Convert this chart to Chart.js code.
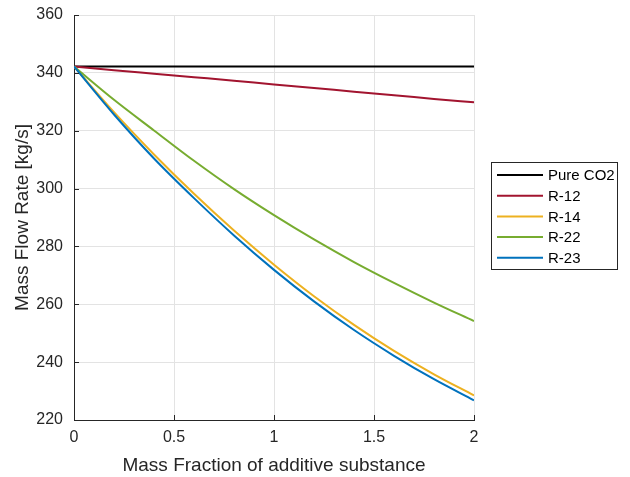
<!DOCTYPE html>
<html><head><meta charset="utf-8">
<script src="https://cdn.jsdelivr.net/npm/chart.js@4.4.0/dist/chart.umd.min.js"></script>
<style>html,body{margin:0;padding:0;background:#fff}#wrap{width:630px;height:477px}</style>
</head><body><div id="wrap"><canvas id="c" width="630" height="477"></canvas></div>
<script>
const massFraction = [0, 0.2, 0.4, 0.6, 0.8, 1.0, 1.2, 1.4, 1.6, 1.8, 2.0];
const pureCO2 = [342.2, 342.2, 342.2, 342.2, 342.2, 342.2, 342.2, 342.2, 342.2, 342.2, 342.2];
const r12 = [342.2, 340.9, 339.7, 338.5, 337.3, 336.0, 334.8, 333.5, 332.3, 331.0, 329.8];
const r14 = [342.2, 326.4, 311.8, 298.2, 285.5, 273.7, 262.8, 252.9, 243.9, 235.8, 228.5];
const r22 = [342.2, 330.7, 320.1, 309.6, 299.8, 290.8, 282.4, 274.6, 267.4, 260.6, 254.2];
const r23 = [342.2, 325.6, 310.4, 296.7, 283.8, 271.9, 261.0, 251.1, 242.2, 234.1, 226.8];
const seriesNames = ['Pure CO2', 'R-12', 'R-14', 'R-22', 'R-23'];
const seriesColors = ['#000000', '#A2142F', '#EDB120', '#77AC30', '#0072BD'];
const xTicks = [0, 0.5, 1, 1.5, 2];
const yTicks = [220, 240, 260, 280, 300, 320, 340, 360];
const axisColor = '#262626';
const FONT = "'Liberation Sans', Arial, Helvetica, sans-serif";

const allSeries = [pureCO2, r12, r14, r22, r23];
const datasets = allSeries.map((vals, i) => ({
  label: seriesNames[i],
  data: vals.map((v, j) => ({x: massFraction[j], y: v})),
  borderColor: seriesColors[i],
  backgroundColor: seriesColors[i],
  borderWidth: 2,
  pointRadius: 0,
  fill: false,
  cubicInterpolationMode: 'monotone',
  order: allSeries.length - i
}));

const innerTicks = {
  id: 'innerTicks',
  afterDatasetsDraw(chart) {
    const ctx = chart.ctx, a = chart.chartArea;
    const xs = chart.scales.x, ys = chart.scales.y;
    ctx.save();
    ctx.strokeStyle = axisColor; ctx.lineWidth = 1;
    ctx.beginPath();
    xTicks.forEach(t => { const p = Math.round(xs.getPixelForValue(t)) + 0.5; ctx.moveTo(p, a.bottom); ctx.lineTo(p, a.bottom - 5); });
    yTicks.forEach(t => { const p = Math.round(ys.getPixelForValue(t)) + 0.5; ctx.moveTo(a.left, p); ctx.lineTo(a.left + 5, p); });
    ctx.stroke();
    ctx.restore();
  }
};

const boxLegend = {
  id: 'boxLegend',
  afterDraw(chart) {
    const ctx = chart.ctx;
    const x0 = 491.5, y0 = 162.5, w = 126, h = 107;
    ctx.save();
    ctx.fillStyle = '#fff';
    ctx.fillRect(x0, y0, w, h);
    ctx.strokeStyle = axisColor; ctx.lineWidth = 1;
    ctx.strokeRect(x0, y0, w, h);
    ctx.font = '15px ' + FONT;
    ctx.textBaseline = 'middle';
    ctx.textAlign = 'left';
    chart.data.datasets.forEach((ds, i) => {
      const cy = 175 + i * 20.7;
      ctx.strokeStyle = ds.borderColor; ctx.lineWidth = 2;
      ctx.beginPath(); ctx.moveTo(497, cy); ctx.lineTo(543, cy); ctx.stroke();
      ctx.fillStyle = '#000';
      ctx.fillText(ds.label, 548, cy + 1);
    });
    ctx.restore();
  }
};

new Chart(document.getElementById('c'), {
  type: 'line',
  data: { datasets },
  options: {
    responsive: false,
    animation: false,
    devicePixelRatio: 1,
    layout: { padding: { top: 15, right: 156, left: 0, bottom: 0 } },
    plugins: { legend: { display: false }, tooltip: { enabled: false } },
    scales: {
      x: {
        type: 'linear', min: 0, max: 2,
        afterBuildTicks(s) { s.ticks = xTicks.map(v => ({value: v})); },
        afterFit(s) { s.height = 57; s.paddingLeft = 0; s.paddingRight = 0; },
        ticks: { font: { size: 16, family: FONT }, color: axisColor, padding: 8, maxRotation: 0,
                 callback: v => String(v) },
        grid: { color: '#e3e3e3', drawTicks: false },
        border: { display: true, color: axisColor, width: 1 },
        title: { display: true, text: 'Mass Fraction of additive substance', color: axisColor,
                 font: { size: 19, family: FONT }, padding: { top: 0, bottom: 0 } }
      },
      y: {
        type: 'linear', min: 220, max: 360,
        afterBuildTicks(s) { s.ticks = yTicks.map(v => ({value: v})); },
        afterFit(s) { s.width = 74; s.paddingTop = 0; s.paddingBottom = 0; },
        ticks: { font: { size: 16, family: FONT }, color: axisColor, padding: 11,
                 callback: v => String(v) },
        grid: { color: '#e3e3e3', drawTicks: false },
        border: { display: true, color: axisColor, width: 1 },
        title: { display: true, text: 'Mass Flow Rate [kg/s]', color: axisColor,
                 font: { size: 19, family: FONT }, padding: { top: 11, bottom: 0 } }
      }
    }
  },
  plugins: [innerTicks, boxLegend]
});
</script>
</body></html>
